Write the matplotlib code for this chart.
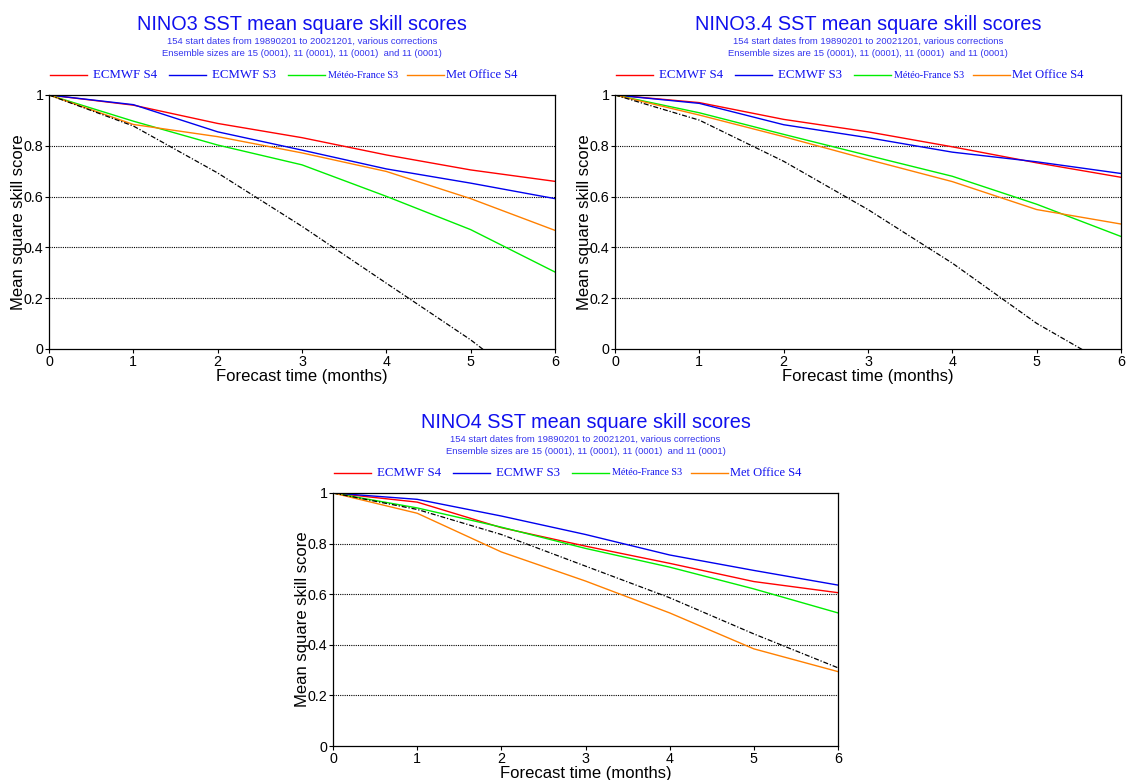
import matplotlib
matplotlib.use("Agg")
import matplotlib.pyplot as plt
from matplotlib.lines import Line2D

# forecast lead (months)
months = [0, 1, 2, 3, 4, 5, 6]

series_names = ["ECMWF S4", "ECMWF S3", "Météo-France S3", "Met Office S4"]
series_colors = ["#ff0000", "#0000ee", "#00ee00", "#ff8000"]

# NINO3
nino3_s4 = [1.0, 0.960, 0.888, 0.832, 0.764, 0.705, 0.660]
nino3_s3 = [1.0, 0.962, 0.855, 0.783, 0.709, 0.653, 0.592]
nino3_mf = [1.0, 0.897, 0.803, 0.725, 0.601, 0.470, 0.303]
nino3_mo = [1.0, 0.884, 0.836, 0.772, 0.699, 0.592, 0.467]
nino3_ref = [1.0, 0.878, 0.693, 0.483, 0.259, 0.036, -0.22]

# NINO3.4
nino34_s4 = [1.0, 0.970, 0.904, 0.855, 0.796, 0.733, 0.676]
nino34_s3 = [1.0, 0.967, 0.883, 0.832, 0.775, 0.737, 0.691]
nino34_mf = [1.0, 0.930, 0.845, 0.762, 0.680, 0.570, 0.443]
nino34_mo = [1.0, 0.921, 0.836, 0.746, 0.659, 0.549, 0.492]
nino34_ref = [1.0, 0.901, 0.739, 0.549, 0.338, 0.101, -0.09]

# NINO4
nino4_s4 = [1.0, 0.964, 0.863, 0.790, 0.722, 0.650, 0.606]
nino4_s3 = [1.0, 0.975, 0.909, 0.836, 0.755, 0.694, 0.636]
nino4_mf = [1.0, 0.941, 0.865, 0.781, 0.707, 0.621, 0.526]
nino4_mo = [1.0, 0.920, 0.767, 0.652, 0.526, 0.384, 0.294]
nino4_ref = [1.0, 0.935, 0.836, 0.711, 0.586, 0.443, 0.309]

titles = ["NINO3 SST mean square skill scores",
          "NINO3.4 SST mean square skill scores",
          "NINO4 SST mean square skill scores"]
subtitle1 = "154 start dates from 19890201 to 20021201, various corrections"
subtitle2 = "Ensemble sizes are 15 (0001), 11 (0001), 11 (0001)  and 11 (0001)"

W, H = 1126, 780
fig = plt.figure(figsize=(W / 100, H / 100), dpi=100)
plt.rcParams['font.family'] = ['Liberation Sans', 'DejaVu Sans']


def fx(x):
    return x / W


def fy(y):
    return 1 - y / H


def panel(left, right, top, bottom, title, data):
    ax = fig.add_axes([fx(left), fy(bottom), fx(right - left), (bottom - top) / H])
    for vals, c in zip(data[:4], series_colors):
        ax.plot(months, vals, color=c, lw=1.0, solid_joinstyle='round')
    ax.plot(months, data[4], color='black', lw=0.9, dashes=(4, 1.5, 1, 1.5))
    ax.set_xlim(0, 6)
    ax.set_ylim(0, 1)
    ax.set_xticks(months)
    ax.set_yticks([0, 0.2, 0.4, 0.6, 0.8, 1])
    ax.set_yticklabels(["0", "0.2", "0.4", "0.6", "0.8", "1"])
    for g in [0.2, 0.4, 0.6, 0.8]:
        ax.axhline(g, color='black', lw=0.8, ls=(0, (1, 1)), zorder=0)
    ax.tick_params(direction='out', length=3, width=0.8, labelsize=10.3, pad=1)
    for s in ax.spines.values():
        s.set_linewidth(0.9)
    ax.set_xlabel("Forecast time (months)", fontsize=12, labelpad=0)
    ax.set_ylabel("Mean square skill score", fontsize=12, labelpad=-2)
    cx = (left + right) / 2
    fig.text(fx(cx), fy(top - 71), title, ha='center', va='center',
             fontsize=14.3, color='#1010ee')
    fig.text(fx(cx), fy(top - 54), subtitle1, ha='center', va='center',
             fontsize=6.8, color='#3535ee')
    fig.text(fx(cx), fy(top - 41.5), subtitle2, ha='center', va='center',
             fontsize=6.8, color='#3535ee')
    # legend row
    ly = top - 20
    line_offsets = [1, 120, 239, 358]
    text_offsets = [44, 163, 279, 397]
    sizes = [9.3, 9.3, 7.3, 9.0]
    for lo, to, name, c, fs in zip(line_offsets, text_offsets, series_names, series_colors, sizes):
        fig.add_artist(Line2D([fx(left + lo), fx(left + lo + 37)], [fy(ly), fy(ly)],
                              transform=fig.transFigure, color=c, lw=1.0))
        fig.text(fx(left + to), fy(ly), name, ha='left', va='center',
                 fontsize=fs, color='#1010ee', family=['Liberation Serif', 'DejaVu Serif'])
    return ax


panel(49, 555, 95, 349, titles[0], [nino3_s4, nino3_s3, nino3_mf, nino3_mo, nino3_ref])
panel(615, 1121, 95, 349, titles[1], [nino34_s4, nino34_s3, nino34_mf, nino34_mo, nino34_ref])
panel(333, 838, 493, 746, titles[2], [nino4_s4, nino4_s3, nino4_mf, nino4_mo, nino4_ref])

fig.savefig("out.png", dpi=100)
